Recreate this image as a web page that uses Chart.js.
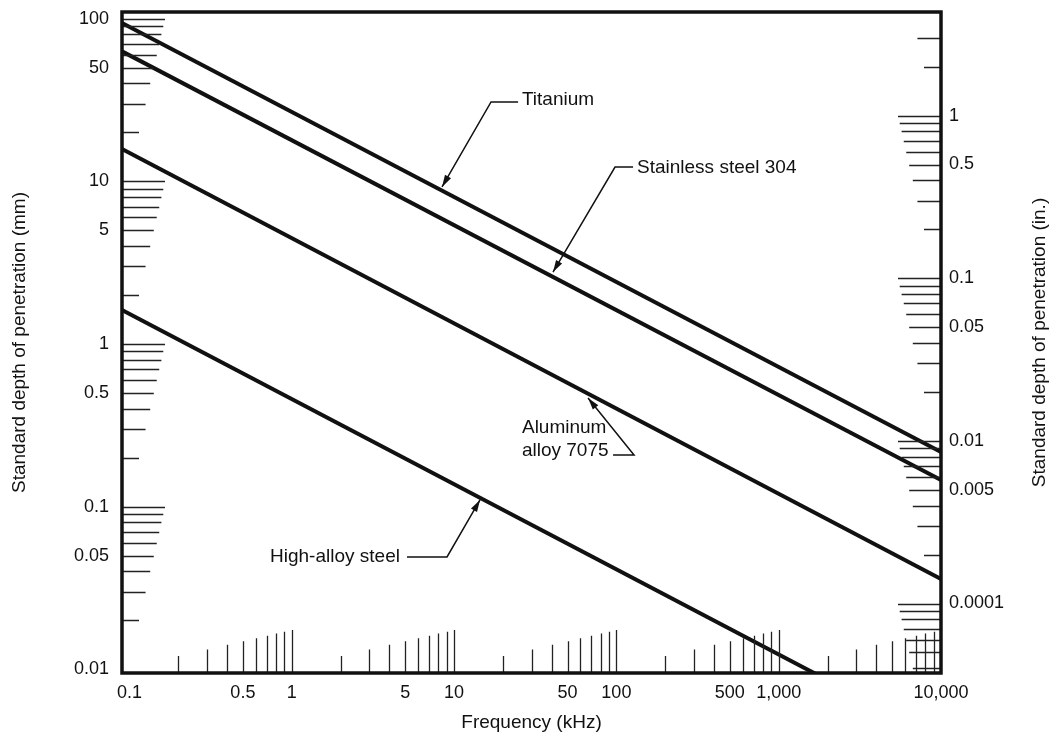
<!DOCTYPE html>
<html>
<head>
<meta charset="utf-8">
<title>Standard depth of penetration vs frequency</title>
<script src="https://cdn.jsdelivr.net/npm/chart.js@4.4.1/dist/chart.umd.min.js"></script>
<style>
    html, body { margin: 0; padding: 0; background: #fff; }
    #wrap { width: 1052px; height: 740px; }
</style>
</head>
<body>
<div id="wrap"><canvas id="chart" width="1052" height="740"></canvas></div>
<script>
// Axis ranges (kHz on x, mm on the left, inches on the right)
const freqMin = 0.09;
const freqMax = 10000;
const depthMin = 0.0095;
const depthMax = 110;
const mmPerInch = 25.4;

// Each material is a straight line on the log-log grid: depth (mm) at both ends
const freqEnds = [0.09, 10000];
const titanium = [94, 0.217];
const stainless304 = [63, 0.146];
const aluminum7075 = [15.8, 0.036];
const highAlloySteel = [1.62, 0.0037];

// Tick labels
const freqTicks = [0.1, 0.5, 1, 5, 10, 50, 100, 500, 1000, 10000];
const freqTickLabels = ['0.1', '0.5', '1', '5', '10', '50', '100', '500', '1,000', '10,000'];
const mmTicks = [100, 50, 10, 5, 1, 0.5, 0.1, 0.05, 0.01];
const mmTickLabels = ['100', '50', '10', '5', '1', '0.5', '0.1', '0.05', '0.01'];
const inchTicks = [1, 0.5, 0.1, 0.05, 0.01, 0.005, 0.001];
const inchTickLabels = ['1', '0.5', '0.1', '0.05', '0.01', '0.005', '0.0001'];

// Decades that get the short inner tick marks
const freqMinorDecades = [0.1, 1, 10, 100, 1000];
const mmMinorDecades = [10, 1, 0.1, 0.01];
const inchMinorDecades = [0.0001, 0.001, 0.01, 0.1, 1];
const inchMinorMax = 3;

// Callout labels, in data units (kHz, mm); last path point is the arrow tip
const calloutText = [['Titanium'], ['Stainless steel 304'], ['Aluminum', 'alloy 7075'], ['High-alloy steel']];
const calloutAt = [[26.2, 31.7], [134, 12.1], [26.2, 0.3047], [0.735, 0.0491]];
const calloutPath = [
    [[24.8, 30.8], [16.9, 30.8], [8.43, 9.24]],
    [[126.7, 12.26], [98.1, 12.26], [40.7, 2.77]],
    [[95.4, 0.2079], [128.5, 0.2079], [66.9, 0.466]],
    [[5.13, 0.0491], [9.05, 0.0491], [14.45, 0.110]]
];

const FONT = '"Liberation Sans", Arial, Helvetica, sans-serif';
const INK = '#111';

// Build tick marks for a list of decades (mantissa 2..10)
function minorTicks(decades) {
    const out = [];
    decades.forEach(d => {
        for (let m = 2; m <= 10; m++) {
            out.push({ value: d * m, m: m });
        }
    });
    return out;
}

// Longer marks toward the top of each decade
function tickLength(m) {
    return 5.8 + 37.2 * Math.log10(m);
}

function lineData(values) {
    return freqEnds.map((f, i) => ({ x: f, y: values[i] }));
}

function lineDataset(label, values) {
    return {
        label: label,
        data: lineData(values),
        borderColor: INK,
        borderWidth: 4,
        pointRadius: 0,
        tension: 0,
        yAxisID: 'y'
    };
}

// Keep the plot frame fixed: no extra room for overhanging labels
function fixSize(prop, size) {
    return scale => {
        scale[prop] = size;
        scale.paddingTop = 0;
        scale.paddingBottom = 0;
        scale.paddingLeft = 0;
        scale.paddingRight = 0;
    };
}

// Inner tick marks, frame and the right-hand title
const frameAndTicks = {
    id: 'frameAndTicks',
    afterDatasetsDraw(chart) {
        const ctx = chart.ctx;
        const area = chart.chartArea;
        const x = chart.scales.x;
        const y = chart.scales.y;
        const yIn = chart.scales.yIn;

        ctx.save();
        ctx.strokeStyle = '#222';
        ctx.lineWidth = 1.3;
        ctx.beginPath();

        // bottom: vertical marks rising from the x axis
        minorTicks(freqMinorDecades).forEach(t => {
            if (t.value < freqMin || t.value >= freqMax) return;
            const px = Math.round(x.getPixelForValue(t.value)) + 0.5;
            ctx.moveTo(px, area.bottom);
            ctx.lineTo(px, area.bottom - tickLength(t.m));
        });

        // left: horizontal marks from the mm axis
        minorTicks(mmMinorDecades).forEach(t => {
            if (t.value < depthMin || t.value > depthMax) return;
            const py = Math.round(y.getPixelForValue(t.value)) + 0.5;
            ctx.moveTo(area.left, py);
            ctx.lineTo(area.left + tickLength(t.m), py);
        });

        // right: horizontal marks from the inch axis
        minorTicks(inchMinorDecades).forEach(t => {
            if (t.value < yIn.min || t.value > inchMinorMax) return;
            const py = Math.round(yIn.getPixelForValue(t.value)) + 0.5;
            ctx.moveTo(area.right, py);
            ctx.lineTo(area.right - tickLength(t.m), py);
        });
        ctx.stroke();

        // frame
        ctx.strokeStyle = INK;
        ctx.lineWidth = 3.5;
        ctx.strokeRect(area.left, area.top, area.right - area.left, area.bottom - area.top);
        ctx.restore();
    },
    afterDraw(chart) {
        const ctx = chart.ctx;
        const area = chart.chartArea;
        ctx.save();
        ctx.fillStyle = INK;
        ctx.font = '19px ' + FONT;
        ctx.textAlign = 'center';
        ctx.textBaseline = 'middle';
        ctx.translate(1040, (area.top + area.bottom) / 2);
        ctx.rotate(-Math.PI / 2);
        ctx.fillText('Standard depth of penetration (in.)', 0, 0);
        ctx.restore();
    }
};

// Material callouts with leader lines and arrowheads
const callouts = {
    id: 'callouts',
    afterDatasetsDraw(chart) {
        const ctx = chart.ctx;
        const x = chart.scales.x;
        const y = chart.scales.y;
        const toPx = p => [x.getPixelForValue(p[0]), y.getPixelForValue(p[1])];

        ctx.save();
        ctx.fillStyle = INK;
        ctx.strokeStyle = INK;
        ctx.font = '19px ' + FONT;
        ctx.textAlign = 'left';
        ctx.textBaseline = 'middle';

        calloutText.forEach((lines, i) => {
            const [tx, ty] = toPx(calloutAt[i]);
            lines.forEach((line, j) => ctx.fillText(line, tx, ty + j * 23));

            const pts = calloutPath[i].map(toPx);
            ctx.lineWidth = 1.5;
            ctx.beginPath();
            ctx.moveTo(pts[0][0], pts[0][1]);
            for (let k = 1; k < pts.length; k++) ctx.lineTo(pts[k][0], pts[k][1]);
            ctx.stroke();

            // arrowhead along the last segment
            const tip = pts[pts.length - 1];
            const prev = pts[pts.length - 2];
            const ang = Math.atan2(tip[1] - prev[1], tip[0] - prev[0]);
            const len = 12, half = 3.5;
            ctx.beginPath();
            ctx.moveTo(tip[0], tip[1]);
            ctx.lineTo(tip[0] - len * Math.cos(ang) + half * Math.sin(ang),
                       tip[1] - len * Math.sin(ang) - half * Math.cos(ang));
            ctx.lineTo(tip[0] - len * Math.cos(ang) - half * Math.sin(ang),
                       tip[1] - len * Math.sin(ang) + half * Math.cos(ang));
            ctx.closePath();
            ctx.fill();
        });
        ctx.restore();
    }
};

Chart.defaults.color = INK;
Chart.defaults.font.family = FONT;

new Chart(document.getElementById('chart'), {
    type: 'line',
    data: {
        datasets: [
            lineDataset('Titanium', titanium),
            lineDataset('Stainless steel 304', stainless304),
            lineDataset('Aluminum alloy 7075', aluminum7075),
            lineDataset('High-alloy steel', highAlloySteel)
        ]
    },
    options: {
        responsive: false,
        animation: false,
        devicePixelRatio: 1,
        layout: { padding: { top: 12, left: 0, right: 0, bottom: 0 } },
        plugins: {
            legend: { display: false },
            tooltip: { enabled: false }
        },
        scales: {
            x: {
                type: 'logarithmic',
                position: 'bottom',
                min: freqMin,
                max: freqMax,
                grid: { display: false, drawTicks: false },
                border: { display: false },
                afterBuildTicks: scale => { scale.ticks = freqTicks.map(v => ({ value: v })); },
                afterFit: fixSize('height', 67),
                ticks: {
                    autoSkip: false,
                    maxRotation: 0,
                    padding: 9,
                    font: { size: 18 },
                    callback: (value, index) => freqTickLabels[index]
                },
                title: {
                    display: true,
                    text: 'Frequency (kHz)',
                    font: { size: 19 },
                    padding: { top: 0, bottom: 6 }
                }
            },
            y: {
                type: 'logarithmic',
                position: 'left',
                min: depthMin,
                max: depthMax,
                grid: { display: false, drawTicks: false },
                border: { display: false },
                afterBuildTicks: scale => { scale.ticks = mmTicks.map(v => ({ value: v })); },
                afterFit: fixSize('width', 122),
                ticks: {
                    autoSkip: false,
                    padding: 13,
                    font: { size: 18 },
                    callback: (value, index) => mmTickLabels[index]
                },
                title: {
                    display: true,
                    text: 'Standard depth of penetration (mm)',
                    font: { size: 19 },
                    padding: { top: 8, bottom: 0 }
                }
            },
            yIn: {
                type: 'logarithmic',
                position: 'right',
                min: depthMin / mmPerInch,
                max: depthMax / mmPerInch,
                grid: { display: false, drawTicks: false },
                border: { display: false },
                afterBuildTicks: scale => { scale.ticks = inchTicks.map(v => ({ value: v })); },
                afterFit: fixSize('width', 111),
                ticks: {
                    autoSkip: false,
                    padding: 8,
                    font: { size: 18 },
                    callback: (value, index) => inchTickLabels[index]
                }
            }
        }
    },
    plugins: [frameAndTicks, callouts]
});
</script>
</body>
</html>
